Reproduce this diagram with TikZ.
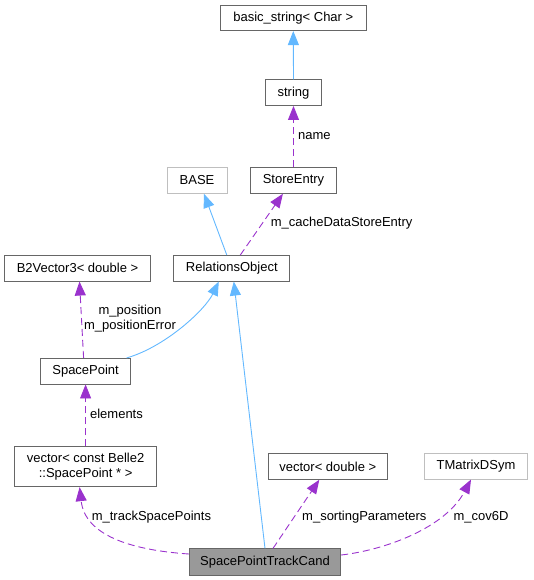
\documentclass[tikz,border=0pt]{standalone}
\usepackage{fontspec}
\setmainfont{Liberation Sans}
\usepackage{xcolor}
\usetikzlibrary{arrows.meta}
\usetikzlibrary{calc}
\definecolor{inheritblue}{HTML}{63B8FF}
\definecolor{usagepurple}{HTML}{9A32CD}
\definecolor{boxgray}{HTML}{666666}
\definecolor{boxlight}{HTML}{BFBFBF}
\definecolor{boxfill}{HTML}{999999}

\begin{document}
\begin{tikzpicture}[x=1pt,y=-1pt,
    classbox/.style={draw=boxgray,line width=0.9pt,fill=white,inner sep=0pt,minimum height=25.6pt,font=\fontsize{13}{15}\selectfont},
    extbox/.style={classbox,draw=boxlight},
    mainbox/.style={classbox,fill=boxfill},
    inherit/.style={draw=inheritblue,line width=0.9pt,-{Triangle[length=14pt,width=11pt]}},
    usage/.style={draw=usagepurple,line width=0.9pt,dash pattern=on 7pt off 4pt,-{Triangle[length=14pt,width=11pt]}},
    edgelabel/.style={inner sep=0pt,font=\fontsize{13}{15}\selectfont}]
        \newcommand{\figcollabwidth}{533}
        \newcommand{\figcollabheight}{580}
        \useasboundingbox (0,0) rectangle (\figcollabwidth,\figcollabheight);
        % classes
        \node[classbox,minimum width=146pt] (basicstr) at (293.3,17.8) {basic\_string< Char >};
        \node[classbox,minimum width=55.4pt] (str) at (293.5,92.7) {string};
        \node[extbox,minimum width=60pt] (base) at (197,180.5) {BASE};
        \node[classbox,minimum width=86pt] (storeentry) at (293.5,180.5) {StoreEntry};
        \node[classbox,minimum width=145.5pt] (bvector) at (77.5,268.3) {B2Vector3< double >};
        \node[classbox,minimum width=115.8pt] (relobj) at (231.8,268.3) {RelationsObject};
        \node[classbox,minimum width=89.8pt] (spoint) at (85.6,371.2) {SpacePoint};
        \node[classbox,minimum width=142.5pt,minimum height=40pt,align=center] (spvector) at (85.6,466.7) {vector< const Belle2\\::SpacePoint * >};
        \node[classbox,minimum width=119pt] (dblvector) at (327.8,466.5) {vector< double >};
        \node[extbox,minimum width=103.4pt] (tmatrix) at (476,466.3) {TMatrixDSym};
        \node[mainbox,minimum width=151.4pt,minimum height=26.3pt] (trackcand) at (265,562) {SpacePointTrackCand};
        % inheritance
        \draw[inherit] (str.north) -- (basicstr.south);
        \draw[inherit] ([xshift=-5pt]relobj.north) -- ([xshift=7pt]base.south);
        \draw[inherit] ([xshift=41pt]spoint.north) .. controls (165,347) and (205,310) .. ([xshift=-13pt]relobj.south);
        \draw[inherit] (trackcand.north) -- ([xshift=2pt]relobj.south);
        % members
        \draw[usage] (storeentry.north) -- (str.south);
        \draw[usage] ([xshift=8.5pt]relobj.north) -- ([xshift=-10.6pt]storeentry.south);
        \draw[usage] ([xshift=-2pt]spoint.north) -- ([xshift=2pt]bvector.south);
        \draw[usage] (spvector.north) -- (spoint.south);
        \draw[usage] ([yshift=8pt]trackcand.west) .. controls (130,550) and (85,535) .. ([xshift=-6pt]spvector.south);
        \draw[usage] ([xshift=8pt]trackcand.north) -- ([xshift=-8.5pt]dblvector.south);
        \draw[usage] ([yshift=7pt]trackcand.east) .. controls (385,550) and (445,528) .. ([xshift=-5pt]tmatrix.south);
        % labels
        \node[edgelabel,anchor=west] (lblname) at (298,135.7) {name};
        \node[edgelabel,anchor=west] (lblcache) at (270.6,223.3) {m\_cacheDataStoreEntry};
        \node[edgelabel,align=center] (lblpos) at (130,319) {m\_position\\m\_positionError};
        \node[edgelabel,anchor=west] (lblelem) at (89.9,414.3) {elements};
        \node[edgelabel,anchor=west] (lbltrack) at (91.6,517) {m\_trackSpacePoints};
        \node[edgelabel,anchor=west] (lblsort) at (302,517) {m\_sortingParameters};
        \node[edgelabel,anchor=west] (lblcov) at (453.3,517.3) {m\_cov6D};
    \end{tikzpicture}
\end{document}
